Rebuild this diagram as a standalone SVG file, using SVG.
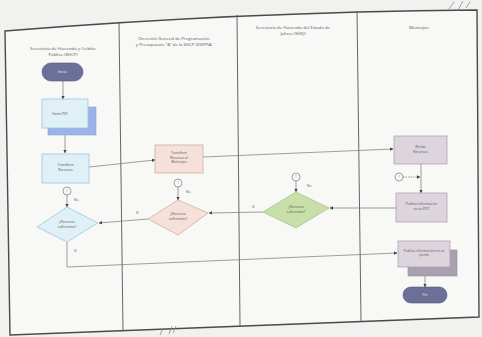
<svg xmlns="http://www.w3.org/2000/svg" width="482" height="337" viewBox="0 0 482 337">
<style>
.bg{fill:#f1f1ef}
.frame{fill:#f8f8f6;stroke:#4a4a4a;stroke-width:1.4}
.lane{stroke:#555;stroke-width:0.9;fill:none}
.hdr{font-family:"Open Sans","Liberation Sans",sans-serif;font-size:4.3px;fill:#555;text-anchor:middle}
.t{font-family:"Open Sans","Liberation Sans",sans-serif;font-size:3.4px;fill:#555;text-anchor:middle}
.tw{font-family:"Open Sans","Liberation Sans",sans-serif;font-size:3.6px;fill:#f0f0f6;text-anchor:middle}
.lbl{font-family:"Open Sans","Liberation Sans",sans-serif;font-size:3.2px;fill:#555}
.c{stroke:#777;stroke-width:0.7;fill:none}
.dash{stroke:#777;stroke-width:0.7;fill:none;stroke-dasharray:1.5 1}
.circ{fill:#fafafa;stroke:#777;stroke-width:0.7}
.term{fill:#6c6f98;stroke:#55587e;stroke-width:0.6}
.blue{fill:#dff0f7;stroke:#8ec3dc;stroke-width:0.7}
.blueS{fill:#9eb2ea;stroke:#8aa0dc;stroke-width:0.6}
.pink{fill:#f6e0da;stroke:#caa59c;stroke-width:0.7}
.lav{fill:#ddd5de;stroke:#a99ca9;stroke-width:0.7}
.lavS{fill:#a7a1b0;stroke:#948ea0;stroke-width:0.6}
.green{fill:#c9dfaa;stroke:#9dbf7e;stroke-width:0.7}
.scr{stroke:#8a8a8a;stroke-width:0.8;fill:none}
</style>
<defs>
<marker id="ah" viewBox="0 0 6 6" refX="5.5" refY="3" markerWidth="5" markerHeight="5" orient="auto">
<path d="M0,0 L6,3 L0,6 z" fill="#444"/>
</marker>
</defs>
<rect class="bg" x="0" y="0" width="482" height="337"/>
<path class="frame" d="M5,31 Q240,12 477,10 L479,317 L10,335 Z"/>
<g id="lanes">
<line class="lane" x1="119" y1="22" x2="123" y2="331"/>
<line class="lane" x1="237" y1="15" x2="240" y2="326"/>
<line class="lane" x1="357" y1="11" x2="361" y2="321"/>
<text class="hdr" x="63" y="50">Secretaría de Hacienda y Crédito</text>
<text class="hdr" x="63" y="55.5">Público (SHCP)</text>
<text class="hdr" x="174" y="40">Dirección General de Programación</text>
<text class="hdr" x="174" y="45.5">y Presupuesto "A" de la SHCP (DGPPA)</text>
<text class="hdr" x="293" y="29">Secretaría de Hacienda del Estado de</text>
<text class="hdr" x="293" y="34.5">Jalisco (SHEJ)</text>
<text class="hdr" x="419" y="29">Municipio</text>
</g>
<g id="connectors">
<line class="c" x1="63" y1="81" x2="63" y2="99" marker-end="url(#ah)"/>
<line class="c" x1="65" y1="135" x2="65" y2="153" marker-end="url(#ah)"/>
<line class="c" x1="89" y1="167" x2="155" y2="160" marker-end="url(#ah)"/>
<line class="c" x1="203" y1="157" x2="393" y2="149" marker-end="url(#ah)"/>
<line class="c" x1="421" y1="164" x2="421" y2="193" marker-end="url(#ah)"/>
<line class="dash" x1="403" y1="177" x2="420" y2="177" marker-end="url(#ah)"/>
<line class="c" x1="396" y1="208" x2="330" y2="208" marker-end="url(#ah)"/>
<line class="c" x1="296" y1="181" x2="296" y2="192" marker-end="url(#ah)"/>
<line class="c" x1="263" y1="212" x2="209" y2="213" marker-end="url(#ah)"/>
<line class="c" x1="178" y1="187" x2="178" y2="200" marker-end="url(#ah)"/>
<line class="c" x1="148" y1="219" x2="99" y2="223" marker-end="url(#ah)"/>
<line class="c" x1="67" y1="195" x2="67" y2="207" marker-end="url(#ah)"/>
<path class="c" d="M67,242 L67,267 L397,253" marker-end="url(#ah)"/>
<line class="c" x1="425" y1="276" x2="425" y2="287" marker-end="url(#ah)"/>
<text class="lbl" x="307" y="187">No</text>
<text class="lbl" x="252" y="208">Sí</text>
<text class="lbl" x="186" y="193">No</text>
<text class="lbl" x="136" y="214">Sí</text>
<text class="lbl" x="74" y="201">No</text>
<text class="lbl" x="74" y="252">Sí</text>
</g>
<g id="inicio">
<rect class="term" x="42" y="63" width="41" height="18" rx="9"/>
<text class="tw" x="62.5" y="73.3">Inicio</text>
</g>
<g id="emite">
<rect class="blueS" x="48" y="107" width="48" height="28"/>
<rect class="blue" x="42" y="99" width="46" height="29"/>
<text class="t" x="60" y="115">Emite PEF</text>
</g>
<g id="transfiere">
<rect class="blue" x="42" y="154" width="47" height="29"/>
<text class="t" x="65.5" y="166">Transfiere</text>
<text class="t" x="65.5" y="170.5">Recursos</text>
</g>
<g id="transfiere-mun">
<rect class="pink" x="155" y="145" width="48" height="28"/>
<text class="t" x="179" y="154">Transfiere</text>
<text class="t" x="179" y="158.5">Recursos al</text>
<text class="t" x="179" y="163">Municipio</text>
</g>
<g id="recibe">
<rect class="lav" x="394" y="136" width="53" height="28"/>
<text class="t" x="420.5" y="148">Recibe</text>
<text class="t" x="420.5" y="152.5">Recursos</text>
</g>
<g id="c1-mun">
<circle class="circ" cx="399" cy="177" r="4"/>
<text class="lbl" x="399" y="178.2" text-anchor="middle">1</text>
</g>
<g id="publica-pot">
<rect class="lav" x="396" y="193" width="51" height="29"/>
<text class="t" x="421.5" y="205">Publica información</text>
<text class="t" x="421.5" y="209.5">en su POT</text>
</g>
<g id="dec-estado">
<polygon class="green" points="296,192 329,208 296,228 263,212"/>
<text class="t" x="296" y="208">¿Recursos</text>
<text class="t" x="296" y="212.5">suficientes?</text>
</g>
<g id="c1-estado">
<circle class="circ" cx="296" cy="177" r="4"/>
<text class="lbl" x="296" y="178.2" text-anchor="middle">1</text>
</g>
<g id="dec-dgppa">
<polygon class="pink" points="178,200 208,213 178,235 148,219"/>
<text class="t" x="178" y="215">¿Recursos</text>
<text class="t" x="178" y="219.5">suficientes?</text>
</g>
<g id="c1-dgppa">
<circle class="circ" cx="178" cy="183" r="4"/>
<text class="lbl" x="178" y="184.2" text-anchor="middle">1</text>
</g>
<g id="dec-shcp">
<polygon class="blue" points="67,207 98,223 67,242 37,227"/>
<text class="t" x="67" y="223">¿Recursos</text>
<text class="t" x="67" y="227.5">suficientes?</text>
</g>
<g id="c1-shcp">
<circle class="circ" cx="67" cy="191" r="4"/>
<text class="lbl" x="67" y="192.2" text-anchor="middle">1</text>
</g>
<g id="publica-portal">
<rect class="lavS" x="408" y="250" width="49" height="26"/>
<rect class="lav" x="398" y="241" width="52" height="26"/>
<text class="t" x="424" y="251.5">Publica información en su</text>
<text class="t" x="424" y="256">portal</text>
</g>
<g id="fin">
<rect class="term" x="403" y="287" width="44" height="16" rx="8"/>
<text class="tw" x="425" y="296.3">Fin</text>
</g>
<g id="marks">
<path class="scr" d="M454,2 L449,9 M463,1 L458,10 M470,2 L466,8"/>
<path class="scr" d="M163,328 L160,335 M172,326 L169,334 M176,326 L173,333"/>
</g>
</svg>
